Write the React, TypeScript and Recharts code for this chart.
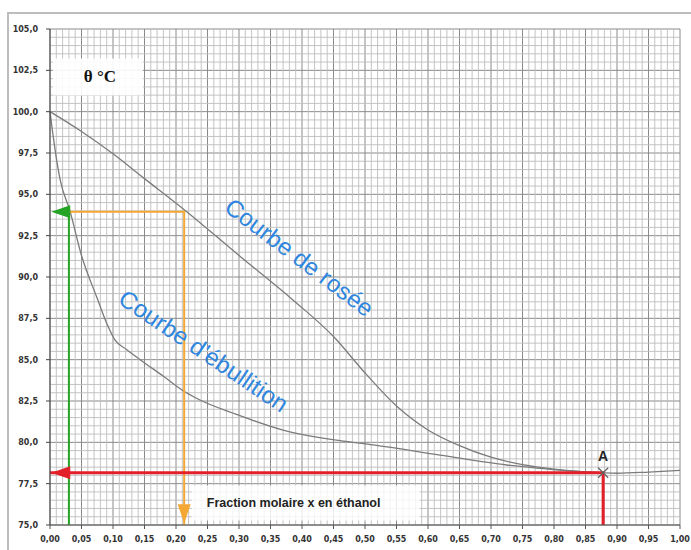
import React from 'react';
import {
  ComposedChart,
  Line,
  XAxis,
  YAxis,
  CartesianGrid,
  ReferenceDot,
  ReferenceLine,
} from 'recharts';

// axis ticks
const xTicks = [0, 0.05, 0.1, 0.15, 0.2, 0.25, 0.3, 0.35, 0.4, 0.45, 0.5, 0.55, 0.6, 0.65, 0.7, 0.75, 0.8, 0.85, 0.9, 0.95, 1];
const yTicks = [75, 77.5, 80, 82.5, 85, 87.5, 90, 92.5, 95, 97.5, 100, 102.5, 105];

// courbe d'ébullition (liquide)
const bubbleX = [0, 0.004, 0.008, 0.016, 0.032, 0.05, 0.074, 0.09, 0.103, 0.122, 0.143, 0.18, 0.214, 0.238, 0.291, 0.37, 0.46, 0.513, 0.619, 0.725, 0.778, 0.83, 0.878, 0.9, 0.95, 1];
const bubbleT = [100, 98.8, 97.7, 95.9, 93.95, 91.3, 88.8, 87.2, 86.2, 85.6, 85.0, 84.0, 83.06, 82.56, 81.76, 80.74, 80.1, 79.84, 79.23, 78.63, 78.43, 78.25, 78.15, 78.13, 78.2, 78.3];

// courbe de rosée (vapeur)
const dewX = [0, 0.05, 0.1, 0.15, 0.217, 0.3, 0.386, 0.45, 0.5, 0.55, 0.6, 0.65, 0.7, 0.75, 0.8, 0.85, 0.878];
const dewT = [100, 98.8, 97.45, 95.95, 93.95, 91.3, 88.6, 86.4, 84.2, 82.2, 80.75, 79.8, 79.1, 78.65, 78.38, 78.22, 78.15];

// constructions
const orangeX = [0.03, 0.213, 0.213];
const orangeT = [93.95, 93.95, 75];
const greenX = [0.03, 0.03];
const greenT = [75, 93.95];
const redX = [0.878, 0.878, 0];
const redT = [75, 78.16, 78.16];

const pointA = { x: 0.878, t: 78.16 };

const zip = (xs: number[], ts: number[]) => xs.map((x, i) => ({ x, t: ts[i] }));
const fmtX = (v: number) => v.toFixed(2).replace('.', ',');
const fmtY = (v: number) => v.toFixed(1).replace('.', ',');

// minor grid (papier millimétré), major lines come from CartesianGrid
const minorX = Array.from({ length: 101 }, (_, i) => i).filter((i) => i % 5 !== 0).map((i) => i / 100);
const minorY = Array.from({ length: 61 }, (_, i) => i).filter((i) => i % 5 !== 0).map((i) => 75 + i * 0.5);

const tickStyle = { fontFamily: 'DejaVu Sans', fontWeight: 'bold', fontSize: 8, fill: '#333' } as const;

const ORANGE = '#f5a733';
const GREEN = '#25a325';
const RED = '#e3202a';
const BLUE = '#2f86de';
const MINOR = '#bdbdbd';

const leftArrow = (color: string) => (p: any) => (
  <polygon points={`${p.cx},${p.cy} ${p.cx + 19},${p.cy - 6.5} ${p.cx + 19},${p.cy + 6.5}`} fill={color} />
);
const downArrow = (color: string) => (p: any) => (
  <polygon points={`${p.cx},${p.cy} ${p.cx - 6.5},${p.cy - 19} ${p.cx + 6.5},${p.cy - 19}`} fill={color} />
);
const rotated = (text: string, angle: number) => (p: any) => (
  <text
    x={p.cx}
    y={p.cy}
    transform={`rotate(${angle} ${p.cx} ${p.cy})`}
    textAnchor="middle"
    dominantBaseline="central"
    fontFamily="Liberation Sans"
    fontSize={24}
    fill={BLUE}
  >
    {text}
  </text>
);
const cross = (p: any) => (
  <g stroke="#666" strokeWidth={1.3}>
    <line x1={p.cx - 5} y1={p.cy - 5} x2={p.cx + 5} y2={p.cy + 5} />
    <line x1={p.cx - 5} y1={p.cy + 5} x2={p.cx + 5} y2={p.cy - 5} />
  </g>
);
const thetaBox = (p: any) => (
  <g>
    <rect x={p.cx - 45} y={p.cy - 18} width={90} height={37} fill="#fff" fillOpacity={0.9} />
    <text x={p.cx + 2} y={p.cy} textAnchor="middle" dominantBaseline="central" fontFamily="Liberation Serif" fontWeight="bold" fontSize={17} fill="#111">
      θ °C
    </text>
  </g>
);
const fractionBox = (p: any) => (
  <g>
    <rect x={p.cx - 114} y={p.cy - 17} width={228} height={35} fill="#fff" fillOpacity={0.82} />
    <text x={p.cx - 99} y={p.cy} dominantBaseline="central" fontFamily="Liberation Sans" fontWeight="bold" fontSize={12.5} fill="#222">
      Fraction molaire x en éthanol
    </text>
  </g>
);

export default function App() {
  return (
    <div style={{ position: 'fixed', left: 0, top: 0, width: 691, height: 550, background: '#fff', overflow: 'hidden' }}>
      <div
        style={{
          position: 'absolute',
          left: 7,
          top: 12,
          width: 720,
          height: 600,
          border: '2px solid #bdbdbd',
        }}
      />
      <div style={{ position: 'absolute', left: 0, top: 0 }}>
        <ComposedChart width={691} height={550} margin={{ top: 29, right: 11, left: 0, bottom: 0 }}>
          <CartesianGrid stroke="#8a8a8a" strokeWidth={1} />
          {minorX.map((v) => (
            <ReferenceLine key={`mx${v}`} x={v} stroke={MINOR} strokeWidth={0.9} />
          ))}
          {minorY.map((v) => (
            <ReferenceLine key={`my${v}`} y={v} stroke={MINOR} strokeWidth={0.9} />
          ))}
          <XAxis
            dataKey="x"
            type="number"
            domain={[0, 1]}
            ticks={xTicks}
            tickFormatter={fmtX}
            interval={0}
            height={25}
            tickSize={4}
            tickMargin={7}
            tick={tickStyle}
            stroke="#555"
          />
          <YAxis
            dataKey="t"
            type="number"
            domain={[75, 105]}
            ticks={yTicks}
            tickFormatter={fmtY}
            interval={0}
            width={50}
            tickSize={4}
            tickMargin={8}
            tick={tickStyle}
            stroke="#444"
          />
          <Line data={zip(dewX, dewT)} dataKey="t" type="monotone" stroke="#7b7b7b" strokeWidth={1.3} dot={false} isAnimationActive={false} />
          <Line data={zip(bubbleX, bubbleT)} dataKey="t" type="monotone" stroke="#7b7b7b" strokeWidth={1.3} dot={false} isAnimationActive={false} />
          <Line data={zip(orangeX, orangeT)} dataKey="t" type="linear" stroke={ORANGE} strokeWidth={2} dot={false} isAnimationActive={false} />
          <Line data={zip(greenX, greenT)} dataKey="t" type="linear" stroke={GREEN} strokeWidth={2} dot={false} isAnimationActive={false} />
          <Line data={zip(redX, redT)} dataKey="t" type="linear" stroke={RED} strokeWidth={3} dot={false} isAnimationActive={false} />
          <ReferenceDot x={0.076} y={102.13} r={0} shape={thetaBox} />
          <ReferenceDot x={0.406} y={76.36} r={0} shape={fractionBox} />
          <ReferenceDot x={0.002} y={93.95} r={0} shape={leftArrow(GREEN)} />
          <ReferenceDot x={0.002} y={78.16} r={0} shape={leftArrow(RED)} />
          <ReferenceDot x={0.213} y={75.1} r={0} shape={downArrow(ORANGE)} />
          <ReferenceDot
            x={pointA.x}
            y={pointA.t}
            r={0}
            shape={cross}
            label={{ value: 'A', position: 'top', offset: 12, fill: '#222', fontSize: 14, fontWeight: 'bold', fontFamily: 'Liberation Sans' }}
          />
          <ReferenceDot x={0.396} y={91.2} r={0} shape={rotated('Courbe de rosée', 37)} />
          <ReferenceDot x={0.244} y={85.53} r={0} shape={rotated("Courbe d'ébullition", 34)} />
        </ComposedChart>
      </div>
    </div>
  );
}
